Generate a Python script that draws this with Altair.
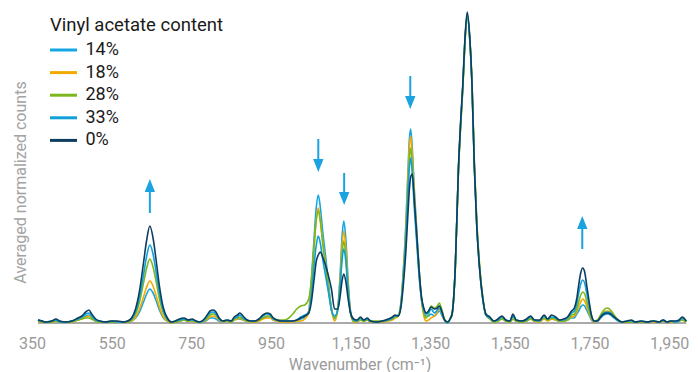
import altair as alt
import pandas as pd

# Raman shift grid (cm^-1)
wavenumber = [365, 375, 385, 400, 410, 420, 435, 450, 465, 475, 485, 493, 500, 510, 520, 535, 550, 565, 580, 590,
              600, 610, 620, 630, 638, 646, 654, 662, 670, 680, 690, 700,
              710, 720, 732, 742, 752, 762, 770, 780, 790, 797, 805, 812, 820, 830, 840, 850, 858, 866, 872, 880,
              890, 900, 910, 920, 930, 940, 948, 956, 966, 975,
              985, 995, 1005, 1015, 1025, 1035, 1045, 1052, 1058, 1064, 1069, 1074, 1080, 1087, 1094, 1102, 1110,
              1118, 1124, 1129, 1133, 1138, 1144, 1150, 1158,
              1166, 1175, 1183, 1192, 1200, 1215, 1230, 1245, 1255, 1262, 1270, 1277, 1283, 1289, 1294, 1298, 1301,
              1305, 1310, 1316, 1322, 1328, 1334, 1340,
              1346, 1352, 1361, 1368, 1373, 1380, 1386, 1394, 1400, 1405, 1413, 1421, 1427, 1432, 1437, 1443, 1450,
              1455, 1461, 1467, 1474, 1482, 1490,
              1500, 1510, 1520, 1530, 1540, 1550, 1558, 1566, 1580, 1592, 1602, 1612, 1625, 1636, 1645, 1655, 1665,
              1675, 1685, 1695,
              1705, 1712, 1718, 1723, 1728, 1733, 1738, 1743, 1749, 1755, 1762, 1770, 1778, 1786, 1795, 1803, 1812,
              1822, 1832,
              1845, 1855, 1865, 1880, 1895, 1910, 1925, 1935, 1945, 1955, 1965, 1975, 1983, 1993]

c0 = [3, 2, 1, 2, 4, 2, 1, 2, 5, 7, 11, 13, 9, 4, 2, 1, 2, 2, 1, 2,
      5, 14, 32, 60, 83, 97, 85, 62, 37, 15, 5, 1,
      2, 4, 5, 3, 4, 2, 1, 3, 8, 12, 13, 11, 5, 2, 3, 2, 6, 8, 10, 7, 3, 2, 2, 4, 8, 10, 9, 5, 3, 2,
      2, 2, 2, 3, 5, 7, 10, 22, 42, 62, 68, 71, 66, 58, 48, 34, 14, 14, 27, 43, 49, 42, 24, 10, 4,
      3, 6, 3, 5, 2, 1, 2, 4, 6, 8, 7, 17, 40, 72, 108, 135, 146, 149, 124, 90, 54, 27, 15, 10,
      12, 16, 14, 15, 17, 11, 3, 1, 4, 9, 55, 155, 205, 239, 282, 311, 282, 239, 155, 97, 55, 25, 9,
      6, 2, 4, 7, 3, 2, 9, 3, 2, 4, 7, 3, 3, 8, 4, 8, 6, 3, 4, 6,
      12, 15, 24, 38, 50, 55, 51, 38, 22, 8, 2, 2, 6, 9, 10, 9, 6, 3, 1,
      2, 3, 1, 2, 1, 2, 1, 3, 1, 2, 2, 3, 6, 2]

c33 = [3, 2, 1, 2, 3, 1, 1, 2, 4, 6, 9, 10, 7, 3, 2, 1, 2, 1, 1, 2,
       4, 11, 26, 48, 67, 78, 69, 50, 30, 12, 4, 1,
       2, 3, 4, 3, 3, 2, 1, 2, 7, 10, 11, 9, 4, 2, 3, 2, 5, 6, 8, 5, 3, 2, 2, 4, 7, 9, 8, 4, 3, 2,
       2, 2, 2, 3, 6, 8, 10, 30, 56, 78, 87, 80, 64, 48, 32, 13, 7, 13, 37, 64, 74, 62, 31, 10, 3,
       2, 5, 3, 4, 2, 1, 2, 3, 5, 7, 7, 19, 47, 85, 128, 157, 165, 150, 116, 82, 48, 24, 13, 9,
       10, 14, 10, 13, 15, 9, 3, 0, 4, 9, 55, 154, 203, 237, 280, 309, 280, 238, 156, 98, 55, 24, 8,
       5, 2, 3, 6, 3, 2, 7, 3, 2, 3, 6, 3, 2, 7, 4, 6, 5, 3, 3, 5,
       10, 12, 19, 30, 39, 43, 40, 30, 18, 7, 2, 2, 6, 10, 11, 10, 6, 3, 1,
       2, 2, 1, 2, 1, 2, 1, 3, 1, 2, 1, 2, 5, 2]

c28 = [2, 1, 1, 1, 2, 1, 1, 1, 3, 4, 5, 5, 4, 2, 1, 1, 1, 1, 1, 1,
       3, 9, 21, 40, 55, 64, 56, 41, 24, 10, 3, 1,
       1, 2, 3, 2, 3, 1, 1, 2, 5, 8, 9, 8, 4, 2, 2, 1, 4, 5, 6, 4, 2, 2, 2, 3, 5, 7, 7, 5, 3, 3,
       3, 5, 9, 14, 17, 18, 24, 45, 75, 103, 112, 102, 80, 58, 36, 14, 5, 14, 40, 70, 82, 68, 34, 10, 2,
       2, 3, 2, 3, 2, 2, 2, 3, 4, 6, 7, 20, 50, 90, 135, 166, 175, 158, 122, 86, 50, 24, 10, 5,
       9, 17, 15, 17, 20, 12, 4, 1, 4, 9, 54, 152, 200, 235, 277, 306, 280, 240, 160, 102, 58, 26, 8,
       4, 1, 2, 4, 2, 1, 4, 2, 1, 2, 4, 2, 2, 5, 3, 5, 4, 2, 2, 3,
       8, 9, 14, 21, 28, 31, 29, 22, 13, 5, 2, 3, 8, 13, 15, 13, 8, 3, 1,
       1, 1, 1, 1, 1, 2, 1, 2, 1, 2, 1, 2, 3, 1]

c18 = [2, 1, 1, 1, 2, 1, 1, 1, 3, 4, 6, 7, 4, 2, 1, 1, 2, 1, 1, 1,
       2, 6, 14, 26, 36, 42, 37, 27, 16, 6, 2, 0,
       1, 2, 3, 2, 2, 1, 1, 1, 4, 6, 7, 6, 3, 1, 2, 1, 3, 4, 5, 3, 2, 1, 1, 2, 4, 5, 5, 3, 2, 1,
       1, 1, 1, 2, 2, 4, 10, 38, 72, 104, 115, 104, 82, 60, 37, 13, 2, 13, 45, 79, 92, 76, 38, 10, 1,
       1, 3, 2, 3, 1, 1, 1, 2, 3, 5, 7, 21, 53, 96, 144, 178, 187, 168, 130, 91, 53, 24, 7, 2,
       3, 5, 7, 11, 14, 8, 3, 0, 4, 9, 54, 152, 200, 235, 278, 307, 281, 241, 160, 102, 58, 26, 8,
       4, 1, 2, 4, 2, 1, 4, 2, 1, 2, 4, 2, 1, 4, 2, 4, 3, 2, 2, 3,
       6, 7, 11, 16, 21, 24, 22, 17, 10, 4, 1, 2, 6, 11, 12, 11, 6, 3, 1,
       1, 1, 1, 1, 1, 1, 1, 2, 1, 1, 1, 2, 3, 1]

c14 = [3, 2, 1, 2, 3, 1, 1, 2, 3, 5, 7, 8, 5, 2, 1, 1, 1, 1, 1, 1,
       2, 5, 11, 21, 29, 34, 30, 22, 13, 5, 2, 0,
       1, 2, 3, 2, 2, 1, 1, 1, 3, 5, 5, 4, 2, 1, 2, 1, 3, 4, 4, 3, 2, 1, 1, 3, 5, 6, 6, 3, 2, 2,
       1, 1, 2, 2, 4, 6, 12, 45, 82, 116, 128, 116, 92, 68, 42, 15, 4, 15, 50, 88, 102, 85, 42, 12, 2,
       1, 4, 2, 3, 1, 1, 1, 3, 4, 6, 8, 22, 55, 100, 150, 185, 194, 175, 135, 95, 55, 25, 11, 7,
       7, 9, 7, 10, 12, 7, 3, 0, 4, 9, 55, 154, 203, 237, 280, 308, 280, 238, 156, 98, 55, 24, 8,
       5, 1, 3, 5, 2, 2, 6, 2, 1, 3, 5, 2, 2, 5, 3, 4, 3, 2, 2, 3,
       5, 5, 9, 12, 16, 18, 17, 13, 8, 3, 1, 2, 5, 8, 9, 8, 5, 2, 1,
       1, 2, 1, 1, 1, 2, 1, 2, 1, 2, 1, 2, 4, 1]

series_names = ["14%", "18%", "28%", "33%", "0%"]
series_values = [c14, c18, c28, c33, c0]
series_colors = ["#14a6e3", "#f2a900", "#7cb81c", "#0fa0d8", "#0d3d60"]

x_ticks = [350, 550, 750, 950, 1150, 1350, 1550, 1750, 1950]

# annotation arrows: position, tail level, tip level
arrow_wn = [646, 1069, 1134, 1300, 1732]
arrow_tail = [110, 184, 150, 247, 74]
arrow_tip = [144, 151, 118, 214, 107]

rows = []
for name, vals in zip(series_names, series_values):
    for w, v in zip(wavenumber, vals):
        rows.append({"wn": w, "counts": v, "content": name})
df = pd.DataFrame(rows)

HEAD = 13  # head length in y units (1 unit ~ 1 px)
arrow_rows = []
for w, t0, t1 in zip(arrow_wn, arrow_tail, arrow_tip):
    up = t1 > t0
    sgn = 1 if up else -1
    arrow_rows.append({"wn": w, "tail": t0, "tip": t1,
                       "head": t1 - sgn * HEAD / 2,
                       "shaft_end": t1 - sgn * HEAD * 0.7,
                       "dir": "up" if up else "down"})
arrow_df = pd.DataFrame(arrow_rows)

base_df = pd.DataFrame({"start": [min(wavenumber)], "end": [max(wavenumber)], "level": [0]})

FONT = "Roboto"
GRAY = "#9b9b9b"
ARROW = "#1aa3e0"

x_scale = alt.Scale(domain=[350, 1995], nice=False, zero=False)
y_scale = alt.Scale(domain=[0, 314], nice=False)

x_axis = alt.Axis(title="Wavenumber (cm⁻¹)", values=x_ticks, format=",d", labelFontSize=16,
                  labelColor=GRAY, labelFont=FONT, ticks=False, domain=False, grid=False,
                  labelPadding=12, labelOverlap=False, labelFlush=False,
                  titleFontSize=16, titleColor=GRAY, titleFont=FONT, titleFontWeight="normal",
                  titlePadding=5)
y_axis = alt.Axis(title="Averaged normalized counts", labels=False, ticks=False, domain=False, grid=False,
                  titleFontSize=16, titleColor="#a3a3a3", titleFont=FONT, titleFontWeight="normal",
                  titleX=-7, titleY=173, titleBaseline="alphabetic")

legend = alt.Legend(title="Vinyl acetate content", orient="none", legendX=18, legendY=6.9,
                    symbolType="M-2,0H2", symbolSize=182.25, symbolStrokeWidth=3, symbolOffset=4.5,
                    labelOffset=13, rowPadding=4.6, titlePadding=6.6, padding=0,
                    titleFontSize=18.5, titleFontWeight="normal", titleColor="#1a1a1a", titleFont=FONT,
                    labelFontSize=18, labelColor="#1a1a1a", labelFont=FONT)

baseline = alt.Chart(base_df).mark_rule(color="#8c8c8c", strokeWidth=1.5).encode(
    x=alt.X("start:Q", scale=x_scale, axis=x_axis),
    x2="end:Q",
    y=alt.Y("level:Q", scale=y_scale, axis=y_axis),
)

lines = alt.Chart(df).mark_line(strokeWidth=1.6, interpolate="monotone").encode(
    x=alt.X("wn:Q", scale=x_scale, axis=x_axis),
    y=alt.Y("counts:Q", scale=y_scale, axis=y_axis),
    color=alt.Color("content:N", scale=alt.Scale(domain=series_names, range=series_colors),
                    sort=series_names, legend=legend),
)

shafts = alt.Chart(arrow_df).mark_rule(color=ARROW, strokeWidth=2).encode(
    x=alt.X("wn:Q", scale=x_scale, axis=x_axis),
    y=alt.Y("tail:Q", scale=y_scale, axis=y_axis),
    y2="shaft_end:Q",
)

heads_up = alt.Chart(arrow_df).transform_filter("datum.dir == 'up'").mark_point(
    shape="M0,-1L-0.8,1L0.8,1Z", filled=True, size=169, color=ARROW, opacity=1, strokeWidth=0
).encode(
    x=alt.X("wn:Q", scale=x_scale, axis=x_axis),
    y=alt.Y("head:Q", scale=y_scale, axis=y_axis),
)

heads_down = alt.Chart(arrow_df).transform_filter("datum.dir == 'down'").mark_point(
    shape="M0,1L-0.8,-1L0.8,-1Z", filled=True, size=169, color=ARROW, opacity=1, strokeWidth=0
).encode(
    x=alt.X("wn:Q", scale=x_scale, axis=x_axis),
    y=alt.Y("head:Q", scale=y_scale, axis=y_axis),
)

chart = alt.layer(baseline, lines, shafts, heads_up, heads_down).properties(
    width=655, height=314,
    padding={"left": 4, "top": 0, "right": 0, "bottom": 0},
    background="white",
).configure_view(stroke=None)

chart.save("out.html", embed_options={"renderer": "svg", "actions": False})
